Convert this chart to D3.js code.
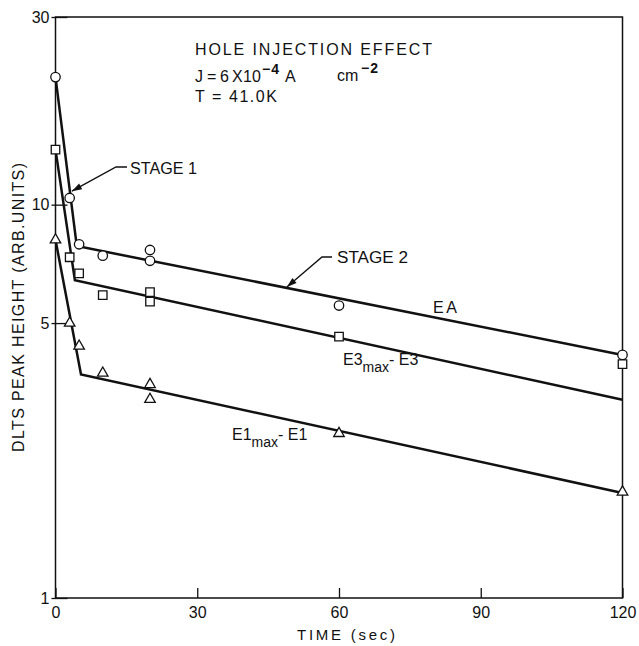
<!DOCTYPE html>
<html>
<head>
<meta charset="utf-8">
<script src="https://cdn.jsdelivr.net/npm/d3@7"></script>
<style>
  body { margin: 0; background: #fff; }
  text { font-family: "Liberation Sans", Arial, sans-serif; fill: #111; }
</style>
</head>
<body>
<svg id="chart" width="639" height="646"></svg>
<script>
// DLTS peak heights (arb. units) after hole injection, by trap level
const eaTime  = [0, 3, 5, 10, 20, 20, 60, 120];
const eaValue = [21.1, 10.4, 7.93, 7.42, 7.67, 7.2, 5.54, 4.15];
const e3Time  = [0, 3, 5, 10, 20, 20, 60, 120];
const e3Value = [13.8, 7.35, 6.69, 5.89, 5.99, 5.67, 4.62, 3.93];
const e1Time  = [0, 3, 5, 10, 20, 20, 60, 120];
const e1Value = [8.14, 5.0, 4.37, 3.73, 3.49, 3.2, 2.62, 1.86];

// Two-stage decay fits: fast stage 1, then slow stage 2
const eaFitTime  = [0, 4.5, 120];
const eaFitValue = [21.1, 7.85, 4.15];
const e3FitTime  = [0, 4.1, 120];
const e3FitValue = [13.8, 6.43, 3.19];
const e1FitTime  = [0, 5.4, 120];
const e1FitValue = [8.14, 3.70, 1.85];

const xTicks = [0, 30, 60, 90, 120];
const yTicks = [1, 5, 10, 30];
const yTickLabels = ["1", "5", "10", "30"];

const svg = d3.select("#chart");
const plotLeft = 55.5, plotRight = 622.5, plotTop = 17, plotBottom = 598;

const x = d3.scaleLinear().domain([0, 120]).range([plotLeft, plotRight]);
const y = d3.scaleLog().domain([1, 30]).range([plotBottom, plotTop]);

const zip = (a, b) => a.map((d, i) => [d, b[i]]);

// frame
svg.append("rect")
  .attr("x", plotLeft).attr("y", plotTop)
  .attr("width", plotRight - plotLeft).attr("height", plotBottom - plotTop)
  .attr("fill", "none").attr("stroke", "#111").attr("stroke-width", 1.5);

// axes with inward ticks
const xAxis = d3.axisBottom(x).tickValues(xTicks).tickFormat(d3.format("d"))
  .tickSizeInner(-10).tickSizeOuter(0).tickPadding(9);
svg.append("g").attr("transform", `translate(0,${plotBottom})`).call(xAxis)
  .call(s => s.select(".domain").remove())
  .call(s => s.selectAll(".tick line").attr("stroke", "#111").attr("stroke-width", 1.3))
  .call(s => s.selectAll(".tick text").attr("font-size", 16).attr("fill", "#111")
    .attr("font-family", "'Liberation Sans', Arial, sans-serif"));

const yAxis = d3.axisLeft(y).tickValues(yTicks).tickFormat((d, i) => yTickLabels[i])
  .tickSizeInner(-12).tickSizeOuter(0).tickPadding(6);
svg.append("g").attr("transform", `translate(${plotLeft},0)`).call(yAxis)
  .call(s => s.select(".domain").remove())
  .call(s => s.selectAll(".tick line").attr("x1", -4).attr("stroke", "#111").attr("stroke-width", 1.3))
  .call(s => s.selectAll(".tick text").attr("font-size", 16).attr("fill", "#111")
    .attr("font-family", "'Liberation Sans', Arial, sans-serif"));

// fitted lines
const line = d3.line().x(d => x(d[0])).y(d => y(d[1]));
[[eaFitTime, eaFitValue], [e3FitTime, e3FitValue], [e1FitTime, e1FitValue]].forEach(([t, v]) => {
  svg.append("path").datum(zip(t, v)).attr("d", line)
    .attr("fill", "none").attr("stroke", "#111").attr("stroke-width", 2.5)
    .attr("stroke-linejoin", "miter");
});

// markers
const series = [
  { t: eaTime, v: eaValue, type: d3.symbolCircle, size: 70 },
  { t: e3Time, v: e3Value, type: d3.symbolSquare, size: 72 },
  { t: e1Time, v: e1Value, type: d3.symbolTriangle, size: 48 }
];
series.forEach(s => {
  svg.append("g").selectAll("path").data(zip(s.t, s.v)).join("path")
    .attr("transform", d => `translate(${x(d[0])},${y(d[1])})`)
    .attr("d", d3.symbol().type(s.type).size(s.size))
    .attr("fill", "#fff").attr("stroke", "#111").attr("stroke-width", 1.3);
});

// point along a fitted segment, in pixel space
function alongFit(ft, fv, seg, frac) {
  const x0 = x(ft[seg]), y0 = y(fv[seg]), x1 = x(ft[seg + 1]), y1 = y(fv[seg + 1]);
  return [x0 + (x1 - x0) * frac, y0 + (y1 - y0) * frac];
}

function leader(tip, elbow, end) {
  svg.append("path")
    .attr("d", `M${end[0]},${end[1]}L${elbow[0]},${elbow[1]}L${tip[0]},${tip[1]}`)
    .attr("fill", "none").attr("stroke", "#111").attr("stroke-width", 1.4);
  const ang = Math.atan2(tip[1] - elbow[1], tip[0] - elbow[0]);
  const len = 10, hw = 3.2;
  const bx = tip[0] - len * Math.cos(ang), by = tip[1] - len * Math.sin(ang);
  const px = -Math.sin(ang) * hw, py = Math.cos(ang) * hw;
  svg.append("path")
    .attr("d", `M${tip[0]},${tip[1]}L${bx + px},${by + py}L${bx - px},${by - py}Z`)
    .attr("fill", "#111");
}

// stage 1 leader onto the fast EA segment
const s1 = alongFit(eaFitTime, eaFitValue, 0, 0.675);
leader([s1[0] + 2, s1[1]], [116, 167], [127, 167]);
svg.append("text").attr("x", 130).attr("y", 174).attr("font-size", 16)
  .attr("textLength", 67).attr("lengthAdjust", "spacingAndGlyphs").text("STAGE 1");

// stage 2 leader onto the slow EA segment
const s2 = alongFit(eaFitTime, eaFitValue, 1, 0.385);
leader([s2[0], s2[1] - 1], [322, 257], [332, 257]);
svg.append("text").attr("x", 337).attr("y", 263).attr("font-size", 16)
  .attr("textLength", 71).attr("lengthAdjust", "spacingAndGlyphs").text("STAGE 2");

// header block
svg.append("text").attr("x", 195).attr("y", 55).attr("font-size", 16)
  .attr("textLength", 237).attr("lengthAdjust", "spacing").text("HOLE INJECTION EFFECT");

const jLine = svg.append("text").attr("y", 82).attr("font-size", 16);
[["J", 195], ["=", 207], ["6", 220], ["X", 232], ["10", 243]].forEach(([s, px]) =>
  jLine.append("tspan").attr("x", px).attr("y", 82).text(s));
jLine.append("tspan").attr("x", 262).attr("y", 74).attr("font-size", 14)
  .attr("font-weight", "bold").attr("letter-spacing", 1).text("−4");
jLine.append("tspan").attr("x", 285).attr("y", 82).text("A");
jLine.append("tspan").attr("x", 337).attr("y", 81).text("cm");
jLine.append("tspan").attr("x", 361).attr("y", 73).attr("font-size", 14)
  .attr("font-weight", "bold").attr("letter-spacing", 1).text("−2");

svg.append("text").attr("x", 195).attr("y", 102).attr("font-size", 16)
  .attr("textLength", 82).attr("lengthAdjust", "spacing").text("T = 41.0K");

// series labels
svg.append("text").attr("x", 433).attr("y", 313).attr("font-size", 16)
  .attr("textLength", 24).attr("lengthAdjust", "spacing").text("EA");

function trapLabel(x0, base, name) {
  const t = svg.append("text").attr("x", x0).attr("y", base).attr("font-size", 16);
  t.append("tspan").text(name);
  t.append("tspan").attr("dy", 7).attr("font-size", 14).text("max");
  t.append("tspan").attr("dy", -7).text("- " + name);
}
trapLabel(343, 365, "E3");
trapLabel(232, 440, "E1");

// axis titles
svg.append("text").attr("x", 297).attr("y", 640).attr("font-size", 15)
  .attr("textLength", 98).attr("lengthAdjust", "spacing").text("TIME (sec)");
svg.append("text").attr("transform", "translate(24,452) rotate(-90)")
  .attr("font-size", 16).attr("textLength", 289).attr("lengthAdjust", "spacing")
  .text("DLTS PEAK HEIGHT (ARB.UNITS)");
</script>
</body>
</html>
